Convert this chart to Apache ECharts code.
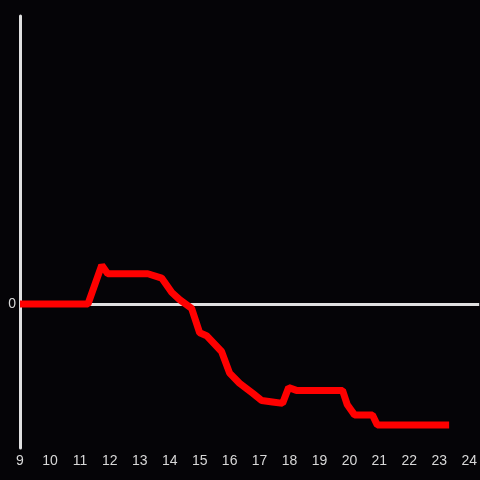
<!DOCTYPE html>
<html>
<head>
<meta charset="utf-8">
<script src="https://cdn.jsdelivr.net/npm/echarts@6/dist/echarts.min.js"></script>
<style>
  * { margin: 0; padding: 0; }
  body { background: #050407; }
</style>
</head>
<body>
<div id="main" style="width: 480px;height: 480px;"></div>
<script>
  // hours on x, level on y
  var hours = [9, 11.27, 11.73, 11.93, 13.27, 13.73, 14.07, 14.33, 14.73, 15.0, 15.23, 15.73, 16.0, 16.33,
    16.77, 17.07, 17.43, 17.77, 17.97, 18.23, 19.77, 19.93, 20.17, 20.77, 20.93, 23.33];
  var levels = [0, 0, 27, 21, 21, 18, 8, 3, -3, -20, -22, -33, -48, -55,
    -62, -67, -68, -69, -58, -60, -60, -70, -77, -77, -84, -84];

  var points = hours.map(function (h, i) { return [h, levels[i]]; });

  var chart = echarts.init(document.getElementById('main'));
  chart.setOption({
    backgroundColor: '#050407',
    animation: false,
    grid: { left: 20, right: 0, top: 16, bottom: 32 },
    xAxis: {
      type: 'value',
      min: 9,
      max: 24.333,
      interval: 1,
      axisLine: { show: false, onZero: false },
      axisTick: { show: false },
      splitLine: { show: false },
      axisLabel: {
        color: '#d8d8d8',
        fontSize: 14,
        margin: 6,
        showMaxLabel: false,
        formatter: function (v) { return Number.isInteger(v) ? String(v) : ''; }
      }
    },
    yAxis: {
      type: 'value',
      min: -100,
      max: 200,
      interval: 100,
      axisLine: { show: true, lineStyle: { color: '#e0e0e0', width: 3 } },
      axisTick: { show: false },
      splitLine: { show: false },
      axisLabel: {
        color: '#d8d8d8',
        fontSize: 14,
        margin: 4,
        formatter: function (v) { return v === 0 ? '0' : ''; }
      }
    },
    series: [{
      type: 'line',
      data: points,
      showSymbol: false,
      lineStyle: { color: '#ff0000', width: 7 },
      markLine: {
        silent: true,
        symbol: 'none',
        label: { show: false },
        lineStyle: { color: '#e0e0e0', width: 3, type: 'solid' },
        z: 1,
        data: [{ yAxis: 0 }]
      },
      z: 3
    }]
  });
</script>
</body>
</html>
